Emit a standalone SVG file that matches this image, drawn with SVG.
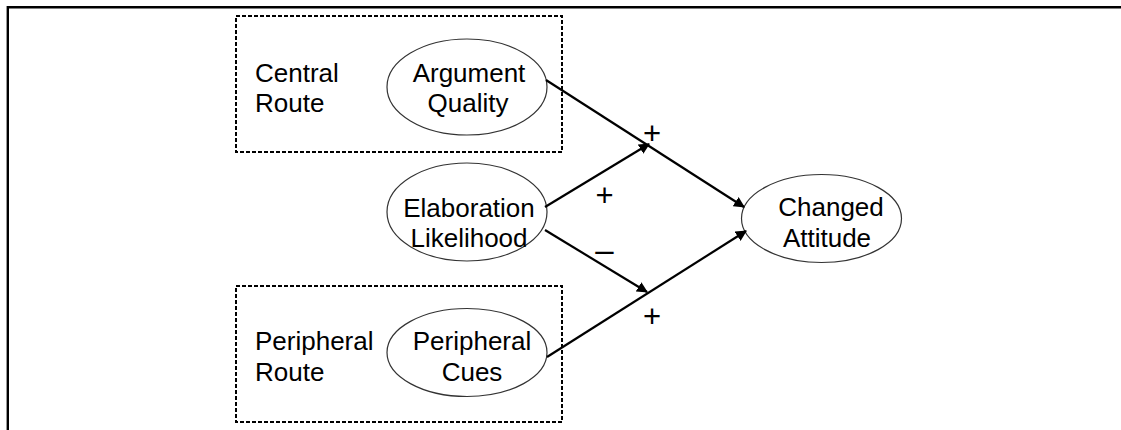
<svg xmlns="http://www.w3.org/2000/svg" width="1121" height="430" viewBox="0 0 1121 430">
<style>
text{font-family:"Liberation Sans",Arial,sans-serif;font-size:26px;fill:#000}
.m{text-anchor:middle}
.sg{font-size:31px}
.node ellipse{fill:#fff;stroke:#333;stroke-width:1.2}
.box{fill:none;stroke:#000;stroke-width:2;stroke-dasharray:4 2}
.conn line{stroke:#000;stroke-width:2.2}
</style>
<defs>
<marker id="ah" viewBox="0 0 10 10" refX="9" refY="5" markerWidth="5" markerHeight="5" orient="auto" markerUnits="strokeWidth">
<path d="M0,0 L10,5 L0,10 z" fill="#000"/>
</marker>
</defs>
<rect width="1121" height="430" fill="#fff"/>
<path d="M7.8,430 V7.2 H1121" fill="none" stroke="#000" stroke-width="2.4"/>
<g id="central-route">
<rect class="box" x="236" y="16" width="326" height="136"/>
<text x="255" y="82">Central</text>
<text x="255" y="112">Route</text>
</g>
<g id="peripheral-route">
<rect class="box" x="236" y="286" width="326" height="136"/>
<text x="255" y="350">Peripheral</text>
<text x="255" y="381">Route</text>
</g>
<g id="argument-quality" class="node">
<ellipse cx="467" cy="87" rx="80" ry="48"/>
<text class="m" x="469" y="82">Argument</text>
<text class="m" x="468" y="112">Quality</text>
</g>
<g id="elaboration-likelihood" class="node">
<ellipse cx="467" cy="212" rx="80" ry="49"/>
<text class="m" x="469" y="217">Elaboration</text>
<text class="m" x="469" y="247">Likelihood</text>
</g>
<g id="peripheral-cues" class="node">
<ellipse cx="467" cy="352.5" rx="80" ry="44"/>
<text class="m" x="472" y="350">Peripheral</text>
<text class="m" x="472" y="381">Cues</text>
</g>
<g id="changed-attitude" class="node">
<ellipse cx="821.5" cy="218.5" rx="80" ry="44"/>
<text class="m" x="831" y="216">Changed</text>
<text class="m" x="827" y="247">Attitude</text>
</g>
<g id="connectors" class="conn">
<line x1="546" y1="80" x2="744" y2="207" marker-end="url(#ah)"/>
<line x1="545" y1="207" x2="649" y2="144" marker-end="url(#ah)"/>
<line x1="545" y1="230" x2="647" y2="292" marker-end="url(#ah)"/>
<line x1="547" y1="357" x2="746" y2="231" marker-end="url(#ah)"/>
</g>
<g id="labels">
<text class="m sg" x="652" y="143.5">+</text>
<text class="m sg" x="604.5" y="206">+</text>
<text class="m" x="604.5" y="260.5" style="font-size:33px">–</text>
<text class="m sg" x="652" y="327">+</text>
</g>
</svg>
